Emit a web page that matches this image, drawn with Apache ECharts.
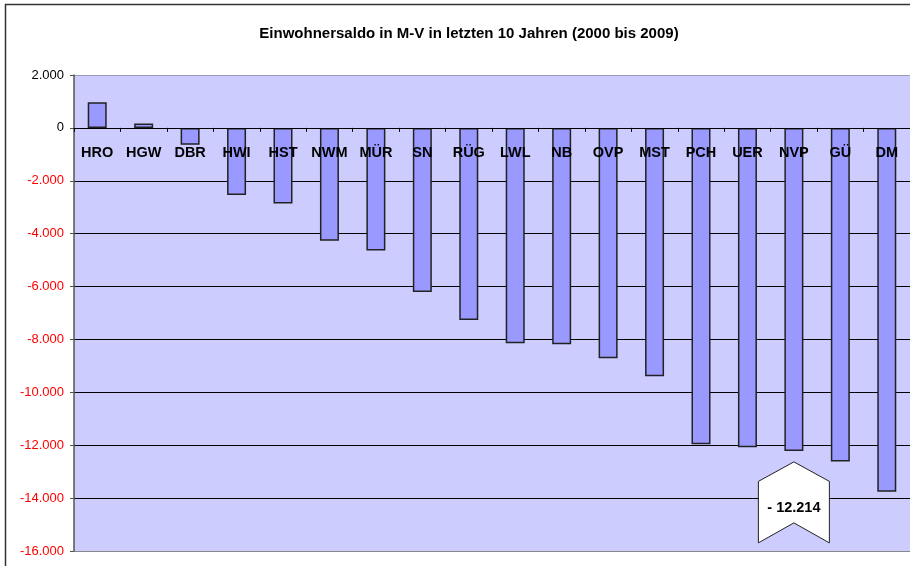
<!DOCTYPE html>
<html>
<head>
<meta charset="utf-8">
<script src="https://cdn.jsdelivr.net/npm/echarts@6/dist/echarts.min.js"></script>
<style>
  html, body { margin: 0; padding: 0; background: #fff; }
  #chart { width: 910px; height: 566px; }
</style>
</head>
<body>
<div id="chart"></div>
<script>
// Districts of Mecklenburg-Vorpommern
const districts = ['HRO', 'HGW', 'DBR', 'HWI', 'HST', 'NWM', 'MÜR', 'SN', 'RÜG', 'LWL', 'NB', 'OVP', 'MST', 'PCH', 'UER', 'NVP', 'GÜ', 'DM'];
// Population balance 2000–2009
const balance = [970, 170, -640, -2540, -2860, -4270, -4640, -6210, -7260, -8140, -8180, -8710, -9390, -11960, -12080, -12214, -12620, -13760];
// Value axis
const yMin = -16000;
const yMax = 2000;
const yStep = 2000;
// District highlighted by the callout
const calloutDistrict = 'NVP';

const titleText = 'Einwohnersaldo in M-V in letzten 10 Jahren (2000 bis 2009)';
const FONT = '"Liberation Sans", Arial, sans-serif';

const GRID = { left: 74, right: -1, top: 75, bottom: 15 };
const chartH = 566;
// distance from the top of the plot down to the zero line
const plotH = chartH - GRID.top - GRID.bottom;
const zeroOffset = plotH * yMax / (yMax - yMin);

function fmt(v) {
  const s = String(Math.abs(Math.round(v))).replace(/\B(?=(\d{3})+(?!\d))/g, '.');
  return (v < 0 ? '-' : '') + s;
}

const chart = echarts.init(document.getElementById('chart'));

chart.setOption({
  backgroundColor: '#ffffff',
  animation: false,
  title: {
    text: titleText,
    left: 464,
    top: 21,
    textAlign: 'center',
    textStyle: { fontFamily: FONT, fontSize: 15, fontWeight: 'bold', color: '#000' }
  },
  grid: Object.assign({
    show: true,
    backgroundColor: '#CCCCFF',
    borderWidth: 0
  }, GRID),
  xAxis: [
    {
      // zero line with ticks between districts
      type: 'category',
      data: districts,
      axisLine: { onZero: true, lineStyle: { color: '#000', width: 1 } },
      axisTick: { show: true, length: 4, lineStyle: { color: '#000' } },
      axisLabel: { show: false },
      z: 10
    },
    {
      // district names just below the zero line
      type: 'category',
      data: districts,
      position: 'top',
      offset: -zeroOffset,
      axisLine: { show: false },
      axisTick: { show: false },
      axisLabel: {
        inside: true,
        margin: 18,
        fontFamily: FONT, fontSize: 14.5, fontWeight: 'bold', color: '#000',
        interval: 0
      },
      z: 10
    }
  ],
  yAxis: {
    type: 'value',
    min: yMin, max: yMax, interval: yStep,
    axisLine: { show: true, lineStyle: { color: '#555', width: 1.5 } },
    axisTick: { show: true, length: 4, lineStyle: { color: '#555' } },
    axisLabel: {
      margin: 10,
      fontFamily: FONT, fontSize: 13,
      color: function (v) { return Number(v) < 0 ? '#FF0000' : '#000'; },
      formatter: function (v) { return fmt(v); }
    },
    splitLine: {
      lineStyle: {
        color: ['#888888', '#000', '#000', '#000', '#000', '#000', '#000', '#000', '#000', '#9a9ab8'],
        width: 1
      }
    }
  },
  series: [{
    type: 'bar',
    data: balance,
    barWidth: 19,
    itemStyle: { color: '#9999FF', borderColor: '#222', borderWidth: 1.5 },
    z: 2
  }]
});

// Outer chart frame and the callout for the highlighted district
function drawExtras() {
  const idx = districts.indexOf(calloutDistrict);
  const val = balance[idx];
  const pt = chart.convertToPixel({ gridIndex: 0 }, [idx, val]);
  const cx = pt[0];
  const tipY = pt[1] + 11;
  const hw = 35.5;
  chart.setOption({
    graphic: [
      {
        type: 'polyline',
        shape: { points: [[5.5, 600], [5.5, 4.5], [915, 4.5]] },
        style: { stroke: '#333', lineWidth: 1.5, fill: null },
        silent: true
      },
      {
        type: 'polygon',
        shape: {
          points: [
            [cx, tipY], [cx + hw, tipY + 19.5], [cx + hw, tipY + 81],
            [cx, tipY + 61], [cx - hw, tipY + 81], [cx - hw, tipY + 19.5]
          ]
        },
        style: { fill: '#fff', stroke: '#222', lineWidth: 1 },
        z: 100
      },
      {
        type: 'text',
        x: cx, y: tipY + 46,
        style: {
          text: '- ' + fmt(Math.abs(val)),
          fontFamily: FONT, fontSize: 14.5, fontWeight: 'bold', fill: '#000',
          align: 'center', verticalAlign: 'middle'
        },
        z: 101
      }
    ]
  });
}
drawExtras();
</script>
</body>
</html>
